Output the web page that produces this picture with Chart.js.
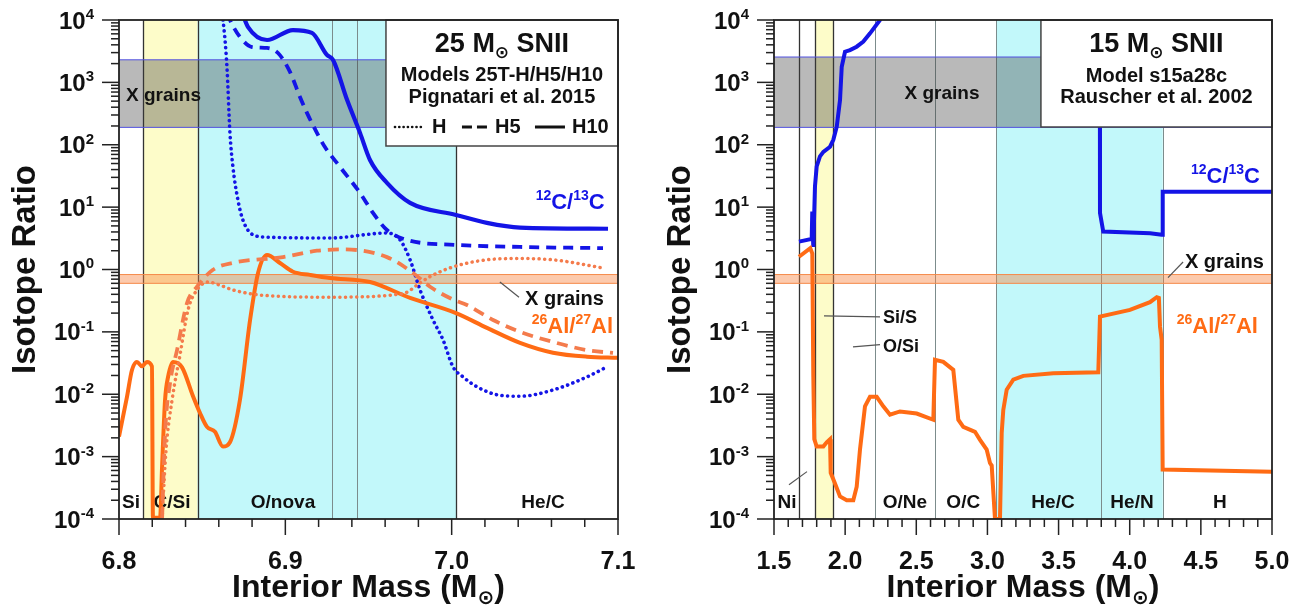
<!DOCTYPE html>
<html>
<head>
<meta charset="utf-8">
<script src="https://cdn.jsdelivr.net/npm/chart.js@4.4.0/dist/chart.umd.min.js"></script>
<style>
html, body { margin: 0; padding: 0; background: #fff; }
#wrap { position: relative; width: 1301px; height: 616px; }
canvas { position: absolute; top: 0; }
#chart_left { left: 0; }
#chart_right { left: 650px; }
</style>
</head>
<body>
<div id="wrap">
    <canvas id="chart_left" width="650" height="616"></canvas>
    <canvas id="chart_right" width="651" height="616"></canvas>
</div>
<script>
const FAM = '"Liberation Sans", Arial, "DejaVu Sans", sans-serif';
const BLUE = "#1414e6";
const ORANGE = "#ff6b14";
const SALMON = "#f47b4c";
const CYAN = "#c2f8fa";
const YELLOW = "#fdfcc9";

// -----------------LEFT PANEL DATA (25 Msun, Pignatari et al. 2015)-----------------
const leftXTicks = [6.8, 6.9, 7.0, 7.1];

// 12C/13C, model H (dotted)
let lCarbonH_m = [6.861, 6.8625, 6.8649, 6.8667, 6.8685, 6.8715, 6.8745, 6.8806, 6.889, 6.9269, 6.9611, 6.9689, 6.975, 6.981, 6.9888, 6.9948, 7.0008, 7.0068, 7.0152, 7.0273, 7.0411, 7.0609, 7.0814, 7.0922];
let lCarbonH_r = [15000, 10000, 1770, 155, 44, 13, 6.2, 3.6, 3.3, 3.2, 3.85, 3.0, 1.43, 0.47, 0.155, 0.0745, 0.0275, 0.019, 0.0132, 0.0098, 0.0093, 0.0117, 0.019, 0.0265];

// 12C/13C, model H5 (dashed)
let lCarbonH5_m = [6.865, 6.8667, 6.8727, 6.88, 6.889, 6.8956, 6.9028, 6.9088, 6.913, 6.919, 6.9238, 6.9329, 6.9449, 6.9527, 6.9611, 6.9731, 7.0026, 7.0411, 7.091];
let lCarbonH5_r = [13000, 10000, 5350, 3690, 3560, 2960, 1470, 583, 324, 155, 92, 44, 16.9, 8.07, 4.3, 2.98, 2.48, 2.3, 2.2];

// 12C/13C, model H10 (solid)
let lCarbonH10_m = [6.874, 6.8776, 6.889, 6.9046, 6.916, 6.925, 6.9287, 6.9371, 6.9449, 6.9509, 6.9611, 6.975, 7.0026, 7.0212, 7.0411, 7.094];
let lCarbonH10_r = [13000, 7700, 4780, 6900, 6200, 2750, 2290, 525, 155, 57, 24.5, 11.7, 7.5, 5.6, 4.7, 4.5];

// 26Al/27Al, model H (dotted)
let lAlH_m = [6.8259, 6.8283, 6.8319, 6.8367, 6.8415, 6.8469, 6.8535, 6.8607, 6.8685, 6.8848, 6.9269, 6.9707, 6.981, 6.987, 7.0008, 7.0212, 7.0411, 7.0609, 7.091];
let lAlH_r = [0.0001, 0.0013, 0.0081, 0.043, 0.225, 0.47, 0.63, 0.56, 0.47, 0.39, 0.36, 0.41, 0.61, 0.77, 1.1, 1.43, 1.5, 1.43, 1.06];

// 26Al/27Al, model H5 (dashed)
let lAlH5_m = [6.8259, 6.8277, 6.8307, 6.8349, 6.8409, 6.8469, 6.8565, 6.8685, 6.8986, 6.919, 6.935, 6.9611, 6.9768, 6.987, 7.0008, 7.0092, 7.0249, 7.0411, 7.0609, 7.0814, 7.097];
let lAlH5_r = [0.0001, 0.0024, 0.0152, 0.051, 0.29, 0.53, 0.99, 1.28, 1.58, 2.0, 2.1, 1.58, 0.88, 0.53, 0.33, 0.27, 0.155, 0.1, 0.069, 0.051, 0.046];

// 26Al/27Al, model H10 (solid)
let lAlH10_m = [6.8, 6.8048, 6.8078, 6.8108, 6.8138, 6.8168, 6.8198, 6.8204, 6.8247, 6.8259, 6.8277, 6.8295, 6.8325, 6.8379, 6.8445, 6.8487, 6.8529, 6.8577, 6.8625, 6.8667, 6.8727, 6.8788, 6.8836, 6.889, 6.8968, 6.9046, 6.9148, 6.9269, 6.9509, 6.975, 7.0026, 7.0212, 7.0411, 7.0609, 7.0814, 7.1];
let lAlH10_r = [0.0021, 0.0091, 0.0245, 0.033, 0.028, 0.033, 0.028, 0.000105, 0.000105, 0.00069, 0.0081, 0.019, 0.033, 0.027, 0.0093, 0.005, 0.003, 0.0025, 0.00145, 0.0017, 0.0081, 0.155, 0.88, 1.71, 1.27, 0.92, 0.82, 0.73, 0.63, 0.35, 0.2, 0.116, 0.0667, 0.0464, 0.04, 0.0385];

// zones
let leftZoneNames = ["Si", "C/Si", "O/nova", "He/C"];
let leftZoneCenters = [6.8072, 6.8319, 6.8986, 7.0549];
let leftZoneEdges = [6.8146, 6.8473, 6.9283, 6.9429, 7.0026];
let leftEdgeDark = [true, true, false, false, true];

// -----------------RIGHT PANEL DATA (15 Msun, Rauscher et al. 2002)-----------------
const rightXTicks = [1.5, 2.0, 2.5, 3.0, 3.5, 4.0, 4.5, 5.0];

// 12C/13C (off scale between the two pieces)
let rCarbon_m = [1.6757, 1.765, 1.769, 1.776, 1.788, 1.8, 1.823, 1.847, 1.894, 1.917, 1.941, 1.964, 1.976, 1.999, 2.034, 2.081, 2.128, 2.175, 2.245, 2.26, 3.0, 3.79, 3.791, 3.814, 4.143, 4.225, 4.229, 4.232, 5.0];
let rCarbon_r = [2.8, 3.1, 8.5, 2.3, 21.5, 45, 65, 77, 93, 120, 195, 522, 1780, 3100, 3300, 3730, 4500, 6110, 10000, 12000, null, 30000, 8.1, 4.05, 3.8, 3.6, 3.6, 17.7, 17.7];

// 26Al/27Al
let rAl_m = [1.6757, 1.7549, 1.7692, 1.7762, 1.7832, 1.8001, 1.8465, 1.8704, 1.8936, 1.8985, 1.9287, 1.9638, 2.0109, 2.0573, 2.0812, 2.1044, 2.1395, 2.1747, 2.2218, 2.2681, 2.3152, 2.3855, 2.5029, 2.6196, 2.6315, 2.6898, 2.7601, 2.7953, 2.8304, 2.9126, 2.9478, 2.9948, 3.018, 3.03, 3.0532, 3.0883, 3.1003, 3.1115, 3.1354, 3.1818, 3.2521, 3.4629, 3.7792, 3.7911, 4.0019, 4.1425, 4.19, 4.205, 4.213, 4.2247, 4.2317, 5.0];
let rAl_r = [1.6, 2.2, 1.8, 0.02, 0.0019, 0.00145, 0.00145, 0.0017, 0.0019, 0.00055, 0.00037, 0.00023, 0.0002, 0.0002, 0.00033, 0.0013, 0.0064, 0.0091, 0.0091, 0.0064, 0.0047, 0.0053, 0.0049, 0.0039, 0.0356, 0.033, 0.0246, 0.0039, 0.003, 0.0025, 0.00186, 0.0013, 0.00079, 0.00072, 0.0001, 0.0001, 0.0024, 0.0056, 0.0118, 0.0171, 0.0197, 0.0218, 0.0225, 0.176, 0.225, 0.3, 0.36, 0.35, 0.12, 0.075, 0.00062, 0.00057];

let rightZoneNames = ["Ni", "O/Ne", "O/C", "He/C", "He/N", "H"];
let rightZoneCenters = [1.5914, 2.4206, 2.83, 3.4608, 4.016, 4.634];
let rightZoneEdges = [1.676, 1.788, 1.915, 2.212, 2.631, 3.06, 3.798, 4.232];
let rightEdgeDark = [true, true, true, false, false, false, false, false];

const yExponents = [-4, -3, -2, -1, 0, 1, 2, 3, 4];

function pts(xs, ys) {
    return xs.map((x, i) => ({ x: x, y: ys[i] }));
}

// draws text with superscript (1) / subscript (2) pieces
function rich(ctx, parts, x, y, size, align, color) {
    let fonts = parts.map(p => "bold " + (p[1] ? Math.round(size * 0.62) : size) + "px " + FAM);
    let w = 0;
    parts.forEach((p, i) => { ctx.font = fonts[i]; w += ctx.measureText(p[0]).width; });
    let cx = align === "center" ? x - w / 2 : (align === "right" ? x - w : x);
    ctx.fillStyle = color;
    ctx.textAlign = "left";
    ctx.textBaseline = "alphabetic";
    parts.forEach((p, i) => {
        ctx.font = fonts[i];
        let dy = 0;
        if (p[1] === 1) dy = -size * 0.4;
        if (p[1] === 2) dy = size * 0.22;
        ctx.fillText(p[0], cx, y + dy);
        cx += ctx.measureText(p[0]).width;
    });
}

function seg(ctx, x0, y0, x1, y1) {
    ctx.beginPath();
    ctx.moveTo(x0, y0);
    ctx.lineTo(x1, y1);
    ctx.stroke();
}

function panelPlugin(p) {
    return {
        id: "panel_" + p.name,
        beforeDatasetsDraw(chart) {
            const ctx = chart.ctx, ca = chart.chartArea, xs = chart.scales.x, ys = chart.scales.y;
            ctx.save();
            p.shade.forEach(s => {
                let a = xs.getPixelForValue(s[0]), b = xs.getPixelForValue(s[1]);
                ctx.fillStyle = s[2];
                ctx.fillRect(a, ca.top, b - a, ca.bottom - ca.top);
            });
            p.edges.forEach((e, i) => {
                let px = Math.round(xs.getPixelForValue(e)) + 0.5;
                ctx.strokeStyle = p.dark[i] ? "#333" : "#7c8c8c";
                ctx.lineWidth = p.dark[i] ? 1.3 : 1;
                seg(ctx, px, ca.top, px, ca.bottom);
            });
            // X grain ranges
            let g0 = ys.getPixelForValue(p.grayBand[1]), g1 = ys.getPixelForValue(p.grayBand[0]);
            ctx.fillStyle = "rgba(60,60,60,0.36)";
            ctx.fillRect(ca.left, g0, ca.right - ca.left, g1 - g0);
            ctx.strokeStyle = "#5050e0";
            ctx.lineWidth = 1;
            seg(ctx, ca.left, g0, ca.right, g0);
            seg(ctx, ca.left, g1, ca.right, g1);
            let o0 = ys.getPixelForValue(p.orangeBand[1]), o1 = ys.getPixelForValue(p.orangeBand[0]);
            ctx.fillStyle = "rgba(248,128,60,0.42)";
            ctx.fillRect(ca.left, o0, ca.right - ca.left, o1 - o0);
            ctx.strokeStyle = "#f58a4a";
            seg(ctx, ca.left, o0, ca.right, o0);
            seg(ctx, ca.left, o1, ca.right, o1);
            rich(ctx, [["X grains", 0]], xs.getPixelForValue(p.grayLabel[0]), (g0 + g1) / 2 + 7, 19, p.grayLabel[1], "#111");
            // zone names
            p.zoneNames.forEach((z, i) => {
                rich(ctx, [[z, 0]], xs.getPixelForValue(p.zoneCenters[i]), ca.bottom - 11, 19, "center", "#111");
            });
            ctx.restore();
        },
        afterDatasetsDraw(chart) {
            const ctx = chart.ctx, ca = chart.chartArea, xs = chart.scales.x, ys = chart.scales.y;
            ctx.save();
            // title box
            let bx = xs.getPixelForValue(p.box.left);
            ctx.fillStyle = "#fff";
            ctx.fillRect(bx, ca.top, ca.right - bx, p.box.h);
            ctx.strokeStyle = "#444";
            ctx.lineWidth = 1.5;
            ctx.strokeRect(bx, ca.top, ca.right - bx, p.box.h);
            let bc = (bx + ca.right) / 2;
            p.box.lines.forEach(l => rich(ctx, l[0], bc, ca.top + l[1], l[2], "center", "#111"));
            if (p.box.legend) {
                let ly = ca.top + 107, ty = ca.top + 113;
                ctx.strokeStyle = "#111";
                ctx.lineCap = "round";
                ctx.lineWidth = 2.6;
                ctx.setLineDash([0.1, 4.2]);
                seg(ctx, bx + 9, ly, bx + 36, ly);
                ctx.lineCap = "butt";
                ctx.lineWidth = 3;
                ctx.setLineDash([10, 5]);
                seg(ctx, bx + 76, ly, bx + 101, ly);
                ctx.setLineDash([]);
                seg(ctx, bx + 149, ly, bx + 179, ly);
                rich(ctx, [["H", 0]], bx + 46, ty, 20, "left", "#111");
                rich(ctx, [["H5", 0]], bx + 109, ty, 20, "left", "#111");
                rich(ctx, [["H10", 0]], bx + 186, ty, 20, "left", "#111");
            }
            // leader lines and notes
            ctx.strokeStyle = "#555";
            ctx.lineWidth = 1.2;
            p.leaders.forEach(l => seg(ctx, xs.getPixelForValue(l[0]), ys.getPixelForValue(l[1]), xs.getPixelForValue(l[2]), ys.getPixelForValue(l[3])));
            p.tags.forEach(t => rich(ctx, t.parts, xs.getPixelForValue(t.x), ys.getPixelForValue(t.y), t.size, t.align, t.color));

            // frame
            ctx.strokeStyle = "#222";
            ctx.lineWidth = 1.8;
            ctx.strokeRect(ca.left, ca.top, ca.right - ca.left, ca.bottom - ca.top);
            // y ticks
            ctx.lineWidth = 1.5;
            yExponents.forEach(e => {
                let py = ys.getPixelForValue(Math.pow(10, e));
                seg(ctx, ca.left - 17, py, ca.left, py);
                if (e < 4) {
                    for (let k = 2; k < 10; k++) {
                        let my = ys.getPixelForValue(k * Math.pow(10, e));
                        seg(ctx, ca.left - 8, my, ca.left, my);
                    }
                }
                let ex = e < 0 ? "-" + (-e) : String(e);
                rich(ctx, [["10", 0], [ex, 1]], ca.left - 25, py + 8.5, 24, "right", "#111");
            });
            // x ticks
            let n = Math.round((xs.max - xs.min) / p.minorStep);
            for (let i = 0; i <= n; i++) {
                let v = xs.min + i * p.minorStep;
                let px = xs.getPixelForValue(v);
                let major = p.xTicks.some(t => Math.abs(t - v) < 1e-6);
                seg(ctx, px, ca.bottom, px, ca.bottom + (major ? 16 : 8));
            }
            // axis titles
            ctx.save();
            ctx.translate(ca.left - 84, (ca.top + ca.bottom) / 2);
            ctx.rotate(-Math.PI / 2);
            ctx.font = "bold 33px " + FAM;
            ctx.fillStyle = "#111";
            ctx.textAlign = "center";
            ctx.textBaseline = "alphabetic";
            ctx.fillText("Isotope Ratio", 0, 0);
            ctx.restore();
            rich(ctx, [["Interior Mass (M", 0], ["\u2299", 2], [")", 0]], (ca.left + ca.right) / 2, 597, 32, "center", "#111");
            ctx.restore();
        }
    };
}

const leftPanel = {
    name: "left",
    shade: [[6.8146, 6.8473, YELLOW], [6.8473, 7.0026, CYAN]],
    edges: leftZoneEdges,
    dark: leftEdgeDark,
    grayBand: [190, 2300],
    orangeBand: [0.6, 0.83],
    grayLabel: [6.8042, "left"],
    zoneNames: leftZoneNames,
    zoneCenters: leftZoneCenters,
    xTicks: leftXTicks,
    minorStep: 0.02,
    box: {
        left: 6.9605, h: 126, legend: true,
        lines: [
            [[["25 M", 0], ["\u2299", 2], [" SNII", 0]], 32, 27],
            [[["Models 25T-H/H5/H10", 0]], 61, 20],
            [[["Pignatari et al. 2015", 0]], 83, 20]
        ]
    },
    leaders: [[7.029, 0.63, 7.0405, 0.36]],
    tags: [
        { parts: [["X grains", 0]], x: 7.0441, y: 0.271, size: 20, align: "left", color: "#111" },
        { parts: [["12", 1], ["C/", 0], ["13", 1], ["C", 0]], x: 7.092, y: 9.35, size: 22, align: "right", color: BLUE },
        { parts: [["26", 1], ["Al/", 0], ["27", 1], ["Al", 0]], x: 7.097, y: 0.0964, size: 22, align: "right", color: ORANGE }
    ]
};

const rightPanel = {
    name: "right",
    shade: [[1.788, 1.915, YELLOW], [3.06, 4.232, CYAN]],
    edges: rightZoneEdges,
    dark: rightEdgeDark,
    grayBand: [190, 2550],
    orangeBand: [0.6, 0.83],
    grayLabel: [2.681, "center"],
    zoneNames: rightZoneNames,
    zoneCenters: rightZoneCenters,
    xTicks: rightXTicks,
    minorStep: 0.1,
    box: {
        left: 3.376, h: 107, legend: false,
        lines: [
            [[["15 M", 0], ["\u2299", 2], [" SNII", 0]], 32, 27],
            [[["Model s15a28c", 0]], 62, 20],
            [[["Rauscher et al. 2002", 0]], 83, 20]
        ]
    },
    leaders: [[4.269, 0.74, 4.375, 1.32], [1.8514, 0.18, 2.245, 0.174], [2.0552, 0.0576, 2.245, 0.0623], [1.6054, 0.000353, 1.7319, 0.000575]],
    tags: [
        { parts: [["X grains", 0]], x: 4.3884, y: 1.06, size: 20, align: "left", color: "#111" },
        { parts: [["Si/S", 0]], x: 2.266, y: 0.139, size: 18, align: "left", color: "#111" },
        { parts: [["O/Si", 0]], x: 2.266, y: 0.0479, size: 18, align: "left", color: "#111" },
        { parts: [["12", 1], ["C/", 0], ["13", 1], ["C", 0]], x: 4.9155, y: 24.4, size: 22, align: "right", color: BLUE },
        { parts: [["26", 1], ["Al/", 0], ["27", 1], ["Al", 0]], x: 4.9014, y: 0.0964, size: 22, align: "right", color: ORANGE }
    ]
};

function scalesFor(min, max, tickList, yWidth) {
    return {
        x: {
            type: "linear", min: min, max: max,
            grid: { display: false }, border: { display: false },
            afterBuildTicks: s => { s.ticks = tickList.map(v => ({ value: v })); },
            // fixed axis height; labels may hang past the plot edges
            afterFit: s => { s.height = 97; s.paddingLeft = 0; s.paddingRight = 0; },
            ticks: {
                autoSkip: false, maxRotation: 0, padding: 20, color: "#111",
                font: { family: FAM, size: 25, weight: "bold" },
                callback: v => Number(v).toFixed(1)
            }
        },
        y: {
            type: "logarithmic", min: 1e-4, max: 1e4,
            grid: { display: false }, border: { display: false },
            ticks: { display: false },
            afterFit: s => { s.width = yWidth; s.paddingTop = 0; s.paddingBottom = 0; }
        }
    };
}

function line(data, color, width, dash, round, smooth) {
    return {
        data: data, borderColor: color, borderWidth: width, borderDash: dash,
        borderCapStyle: round ? "round" : "butt", pointRadius: 0, fill: false,
        cubicInterpolationMode: smooth ? "monotone" : "default", tension: 0
    };
}

var ChartLeft = new Chart("chart_left", {
    type: "line",
    data: {
        datasets: [
            line(pts(lAlH_m, lAlH_r), SALMON, 3.5, [0.1, 5.5], true, true),
            line(pts(lAlH5_m, lAlH5_r), SALMON, 3.8, [11, 7], false, true),
            line(pts(lAlH10_m, lAlH10_r), ORANGE, 4, [], false, true),
            line(pts(lCarbonH_m, lCarbonH_r), BLUE, 3.6, [0.1, 5.5], true, true),
            line(pts(lCarbonH5_m, lCarbonH5_r), BLUE, 3.8, [10, 7], false, true),
            line(pts(lCarbonH10_m, lCarbonH10_r), BLUE, 4.2, [], false, true)
        ]
    },
    options: {
        responsive: false,
        animation: false,
        layout: { padding: { left: 0, right: 32, top: 20, bottom: 0 } },
        plugins: { legend: { display: false }, tooltip: { enabled: false } },
        scales: scalesFor(6.8, 7.1, leftXTicks, 119)
    },
    plugins: [panelPlugin(leftPanel)]
});

var ChartRight = new Chart("chart_right", {
    type: "line",
    data: {
        datasets: [
            line(pts(rAl_m, rAl_r), ORANGE, 4, [], false, false),
            line(pts(rCarbon_m, rCarbon_r), BLUE, 4, [], false, false)
        ]
    },
    options: {
        responsive: false,
        animation: false,
        layout: { padding: { left: 0, right: 29, top: 20, bottom: 0 } },
        plugins: { legend: { display: false }, tooltip: { enabled: false } },
        scales: scalesFor(1.5, 5.0, rightXTicks, 124)
    },
    plugins: [panelPlugin(rightPanel)]
});
</script>
</body>
</html>
